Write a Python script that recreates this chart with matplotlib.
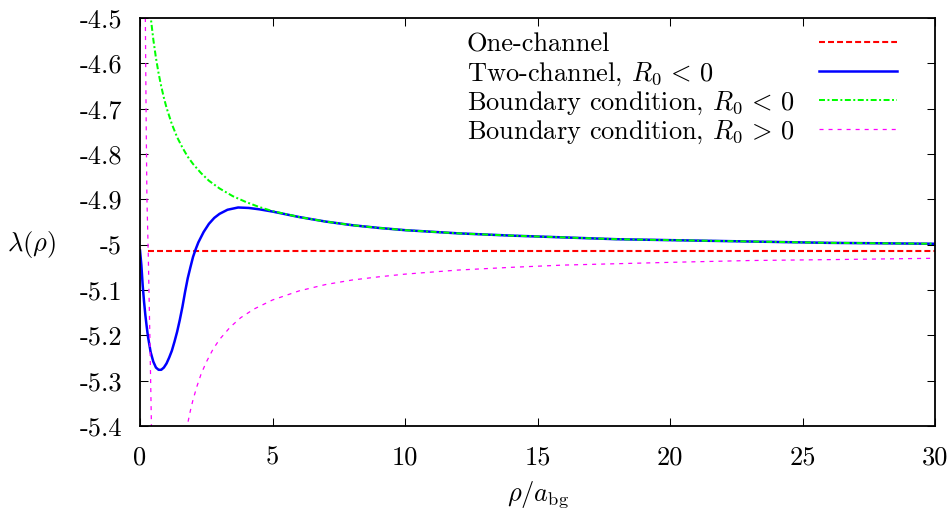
import matplotlib
matplotlib.use("Agg")
import matplotlib.pyplot as plt

plt.rcParams['font.family'] = 'serif'
plt.rcParams['font.serif'] = ['cmr10']
plt.rcParams['mathtext.fontset'] = 'cm'
plt.rcParams['axes.unicode_minus'] = False
plt.rcParams['lines.scale_dashes'] = False

# values
# one-channel (flat)
one_x = [0.3, 30]
one_y = [-5.014, -5.014]

# two-channel, R0 < 0
two_x = [0, 0.05, 0.1, 0.15, 0.2, 0.25, 0.3, 0.4, 0.5, 0.6, 0.7, 0.8, 0.9, 1.0, 1.1,
         1.2, 1.3, 1.4, 1.5, 1.6, 1.7, 1.8, 1.9, 2.0, 2.1, 2.2, 2.4, 2.6, 2.8, 3.0,
         3.3, 3.7, 4.1, 4.5, 5.0, 5.5, 6, 7, 8, 9, 10, 12, 14, 16, 18, 20, 23, 26, 30]
two_y = [-5.013, -5.045, -5.09, -5.125, -5.155, -5.18, -5.203, -5.237, -5.258, -5.271,
         -5.276, -5.276, -5.271, -5.262, -5.249, -5.234, -5.214, -5.192, -5.166, -5.137,
         -5.104, -5.074, -5.050, -5.027, -5.010, -4.995, -4.972, -4.954, -4.941, -4.932,
         -4.923, -4.918, -4.919, -4.922, -4.927, -4.933, -4.939, -4.949, -4.957, -4.963,
         -4.968, -4.975, -4.980, -4.984, -4.988, -4.990, -4.993, -4.996, -4.998]

# boundary condition, R0 < 0
bcn_x = [0.38, 0.5, 0.6, 0.7, 0.8, 0.9, 1.0, 1.2, 1.4, 1.6, 1.8, 2.0, 2.3, 2.6, 3.0,
         3.5, 4.0, 4.5, 5.0, 6, 7, 8, 9, 10, 12, 14, 16, 18, 20, 23, 26, 30]
bcn_y = [-4.487, -4.547, -4.588, -4.622, -4.651, -4.676, -4.698, -4.734, -4.763, -4.786,
         -4.806, -4.822, -4.842, -4.859, -4.876, -4.893, -4.906, -4.917, -4.926, -4.939,
         -4.949, -4.957, -4.963, -4.968, -4.975, -4.980, -4.984, -4.988, -4.990, -4.993,
         -4.996, -4.998]

# boundary condition, R0 > 0 (two branches)
bcp1_x = [0.20, 0.23, 0.26, 0.29, 0.31, 0.34, 0.37, 0.40, 0.43]
bcp1_y = [-4.5, -4.72, -4.9, -4.97, -5.02, -5.11, -5.2, -5.3, -5.4]
bcp2_x = [1.75, 1.8, 1.9, 2.0, 2.15, 2.3, 2.5, 2.75, 3.0, 3.4, 3.8, 4.3, 5, 6, 7, 8, 9,
          10, 12, 14, 16, 18, 20, 23, 26, 30]
bcp2_y = [-5.410, -5.394, -5.366, -5.342, -5.312, -5.286, -5.259, -5.231, -5.209, -5.182,
          -5.161, -5.142, -5.122, -5.102, -5.088, -5.078, -5.071, -5.065, -5.056, -5.050,
          -5.045, -5.042, -5.039, -5.035, -5.033, -5.030]

xticks = [0, 5, 10, 15, 20, 25, 30]
yticks = [-4.5, -4.6, -4.7, -4.8, -4.9, -5.0, -5.1, -5.2, -5.3, -5.4]
ytick_labels = ['-4.5', '-4.6', '-4.7', '-4.8', '-4.9', '-5', '-5.1', '-5.2', '-5.3', '-5.4']

labels = ['One-channel', r'Two-channel, $R_0\,<\,0$',
          r'Boundary condition, $R_0\,<\,0$', r'Boundary condition, $R_0\,>\,0$']

fig = plt.figure(figsize=(9.52, 5.17), dpi=100)
ax = fig.add_axes([0.1471, 0.176, 0.8351, 0.7892])

red_style = dict(color='#ff0000', lw=1.5, dashes=(4.3, 2.2))
blue_style = dict(color='#0000ff', lw=1.8)
green_style = dict(color='#00ff00', lw=1.45, dashes=(4.3, 1.8, 1.4, 1.8))
mag_style = dict(color='#ff00ff', lw=0.9, dashes=(2.9, 3.6))

# same order as the key
ax.plot(one_x, one_y, **red_style)
ax.plot(two_x, two_y, **blue_style)
ax.plot(bcn_x, bcn_y, **green_style)
ax.plot(bcp1_x, bcp1_y, **mag_style)
ax.plot(bcp2_x, bcp2_y, **mag_style)

ax.set_xlim(0, 30)
ax.set_ylim(-5.4, -4.5)
ax.set_xticks(xticks)
ax.set_xticklabels([str(t) for t in xticks])
ax.set_yticks(yticks)
ax.set_yticklabels(ytick_labels)
ax.tick_params(direction='in', length=5.8, width=0.75, top=True, right=True, labelsize=19)
ax.tick_params(axis='x', pad=14)
ax.tick_params(axis='y', pad=13)
for s in ax.spines.values():
    s.set_linewidth(1.3)

ax.set_xlabel(r'$\rho/a_{\rm bg}$', fontsize=19)
ax.xaxis.set_label_coords(0.5, -0.13)
ax.set_ylabel(r'$\lambda(\rho)$', fontsize=19, rotation=0, ha='center', va='center')
ax.yaxis.set_label_coords(-0.136, 0.444)

# gnuplot style key: text on the left, sample on the right
key_y = [0.941, 0.870, 0.799, 0.728]
styles = [red_style, blue_style, green_style, mag_style]
for yk, lab, st in zip(key_y, labels, styles):
    ax.text(0.411, yk, lab, transform=ax.transAxes, fontsize=19, ha='left', va='center_baseline')
    ax.plot([0.854, 0.952], [yk, yk], transform=ax.transAxes, **st)

fig.savefig('out.png', dpi=100)
